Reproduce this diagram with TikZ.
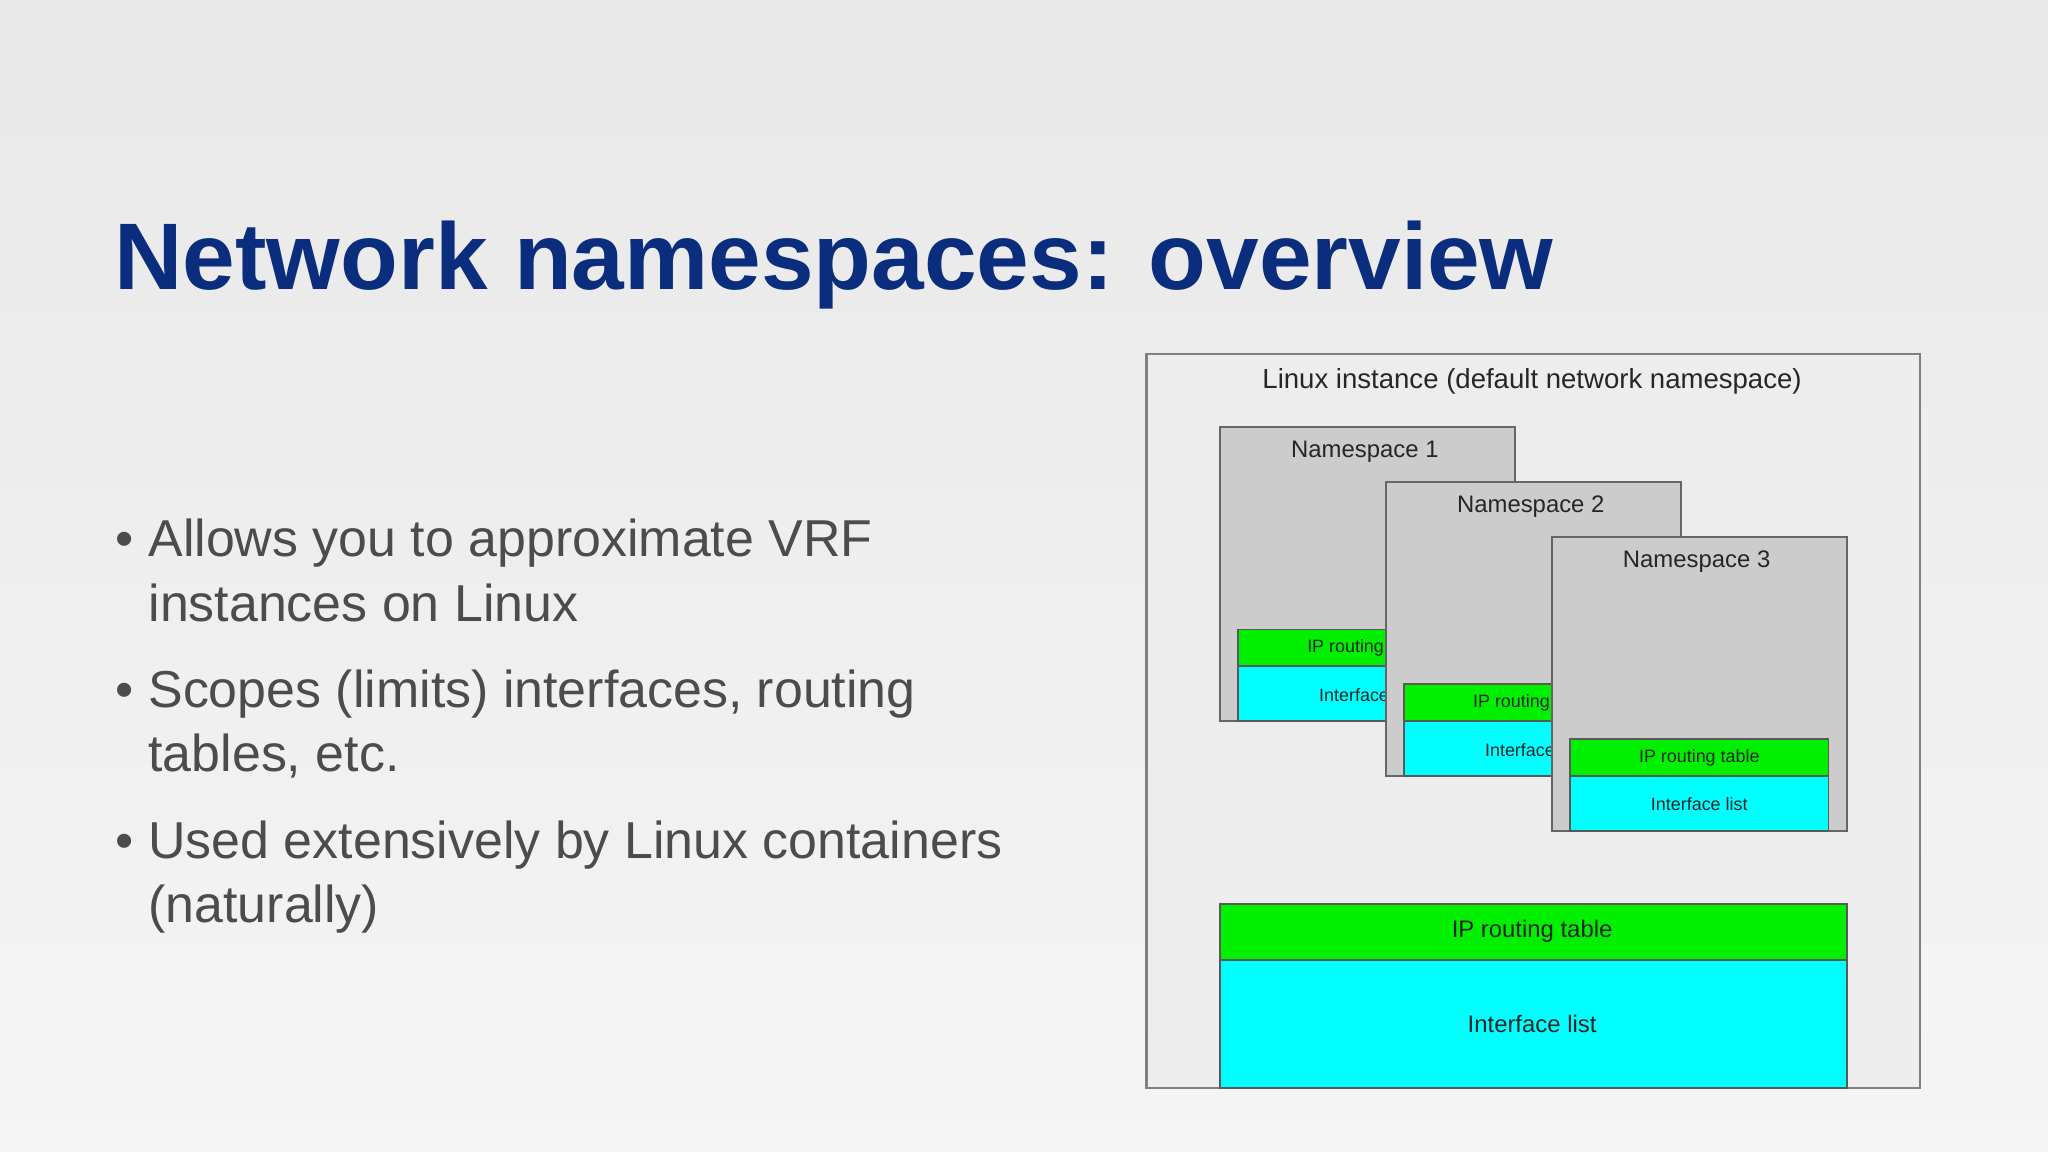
\documentclass[tikz,border=0pt]{standalone}
\usepackage{fontspec}
\setmainfont{Liberation Sans}
\definecolor{cy}{RGB}{0,255,255}
\definecolor{gr}{RGB}{0,240,0}
\begin{document}
\begin{tikzpicture}[x=0.01cm,y=-0.01cm,
 ns/.style={draw=gray!80!black,fill=gray!40,line width=0.5pt},
 ipbox/.style={draw=gray!70!black,fill=gr,line width=0.4pt},
 ifbox/.style={draw=gray!70!black,fill=cy,line width=0.4pt},
 lbl/.style={font=\fontsize{5.2}{6}\selectfont,text=black!85},
 sml/.style={font=\fontsize{3.9}{5}\selectfont,text=black!85},
 bul/.style={font=\fontsize{11.3}{14}\selectfont,text=black!70,anchor=base west}]
\shade[top color=black!9!white, bottom color=black!4!white] (0,0) rectangle (1568,882);
\useasboundingbox (0,0) rectangle (1568,882);
\node[anchor=base west,inner sep=0,text={rgb,255:red,10;green,45;blue,125},font=\fontsize{20.6}{26}\selectfont\bfseries] (title) at (87,222) {Network namespaces: overview};
\node[bul,inner sep=0] (b1) at (88,426) {\textbullet\ Allows you to approximate VRF};
\node[bul,inner sep=0] (b1b) at (113,476) {instances on Linux};
\node[bul,inner sep=0] (b2) at (88,542) {\textbullet\ Scopes (limits) interfaces, routing};
\node[bul,inner sep=0] (b2b) at (113,591) {tables, etc.};
\node[bul,inner sep=0] (b3) at (88,657) {\textbullet\ Used extensively by Linux containers};
\node[bul,inner sep=0] (b3b) at (113,706) {(naturally)};
\draw[draw=gray,fill=black!7,line width=0.6pt] (878,271) rectangle (1470,833);
\node[lbl,font=\fontsize{6}{7}\selectfont] (lt) at (1173,292) {Linux instance (default network namespace)};
% NS1
\draw[ns] (934,327) rectangle (1160,552);
\node[lbl] (n1) at (1045,346) {Namespace 1};
\draw[ipbox] (948,482) rectangle (1146,510);
\draw[ifbox] (948,510) rectangle (1146,552);
\node[sml] at (1047,496) {IP routing table};
\node[sml] at (1047,532) {Interface list};
% NS2
\draw[ns] (1061,369) rectangle (1287,594);
\node[lbl] (n2) at (1172,388) {Namespace 2};
\draw[ipbox] (1075,524) rectangle (1273,552);
\draw[ifbox] (1075,552) rectangle (1273,594);
\node[sml] at (1174,538) {IP routing table};
\node[sml] at (1174,574) {Interface list};
% NS3
\draw[ns] (1188,411) rectangle (1414,636);
\node[lbl] (n3) at (1299,430) {Namespace 3};
\draw[ipbox] (1202,566) rectangle (1400,594);
\draw[ifbox] (1202,594) rectangle (1400,636);
\node[sml] at (1301,580) {IP routing table};
\node[sml] at (1301,616) {Interface list};
% default
\draw[ipbox] (934,692) rectangle (1414,735);
\draw[ifbox] (934,735) rectangle (1414,833);
\node[lbl] at (1173,713) {IP routing table};
\node[lbl] at (1173,784) {Interface list};
\end{tikzpicture}
\end{document}
